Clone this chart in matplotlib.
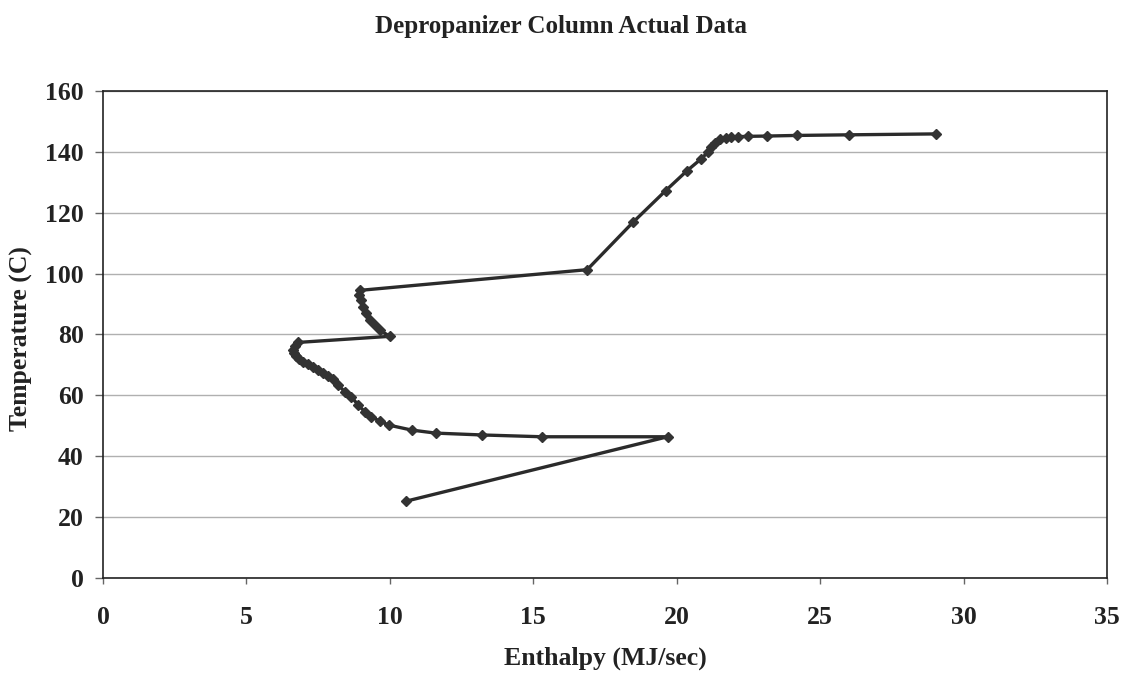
import matplotlib
matplotlib.use("Agg")
import matplotlib.pyplot as plt

enthalpy = [10.55, 19.68, 15.31, 13.20, 11.60, 10.76, 9.98, 9.65, 9.36, 9.13, 8.90,
            8.66, 8.43, 8.20, 8.03, 7.85, 7.68, 7.50, 7.33, 7.15, 6.98, 6.85, 6.72,
            6.66, 6.63, 6.70, 6.81, 10.00, 9.65, 9.48, 9.30, 9.17, 9.06, 8.98, 8.92,
            8.96, 16.88, 18.48, 19.62, 20.36, 20.84, 21.10, 21.20, 21.33, 21.50,
            21.73, 21.90, 22.14, 22.49, 23.15, 24.20, 26.00, 29.03]
temperature = [25.2, 46.4, 46.4, 47.0, 47.6, 48.6, 50.2, 51.5, 53.0, 54.6, 56.8,
               59.5, 61.2, 63.4, 65.4, 66.3, 67.2, 68.3, 69.4, 70.2, 71.0, 72.0, 73.0,
               74.0, 75.0, 76.3, 77.4, 79.4, 81.4, 83.1, 84.7, 87.0, 89.0, 91.2, 92.9,
               94.5, 101.3, 116.9, 127.3, 133.8, 137.6, 140.0, 141.6, 143.0, 144.1,
               144.7, 144.9, 145.0, 145.1, 145.2, 145.4, 145.6, 145.9]

xticks = [0, 5, 10, 15, 20, 25, 30, 35]
yticks = [0, 20, 40, 60, 80, 100, 120, 140, 160]

plt.rcParams['font.family'] = ['Liberation Serif', 'DejaVu Serif']
fig = plt.figure(figsize=(11.22, 6.75), dpi=100)
ax = fig.add_axes([0.0918, 0.1437, 0.8948, 0.7215])

ax.plot(enthalpy, temperature, color='#2b2b2b', linewidth=2.4,
        marker='D', markersize=5, markerfacecolor='#333333', markeredgecolor='#333333')

ax.set_xlim(0, 35)
ax.set_ylim(0, 160)
ax.set_xticks(xticks)
ax.set_yticks(yticks)
ax.yaxis.grid(True, color='#b0b0b0', linewidth=1.0)
ax.set_axisbelow(True)
for s in ax.spines.values():
    s.set_color('#222222')
    s.set_linewidth(1.2)
ax.tick_params(axis='x', direction='out', length=4, width=1.0, color='#666666',
               labelsize=18.5, pad=16, labelcolor='#222222')
ax.tick_params(axis='y', direction='out', length=6, width=1.0, color='#666666',
               labelsize=18.5, pad=8, labelcolor='#222222')
for lab in ax.get_xticklabels() + ax.get_yticklabels():
    lab.set_fontweight('bold')

ax.set_xlabel('Enthalpy (MJ/sec)', fontsize=18.5, fontweight='bold', labelpad=13,
              color='#222222')
ax.set_ylabel('Temperature (C)', fontsize=18.5, fontweight='bold',
              color='#222222')
ax.yaxis.set_label_coords(-0.070, 0.491)
fig.text(0.5, 0.960, 'Depropanizer Column Actual Data', ha='center', va='center',
         fontsize=18, fontweight='bold', color='#222222')

fig.savefig('out.png', dpi=100, facecolor='white')
